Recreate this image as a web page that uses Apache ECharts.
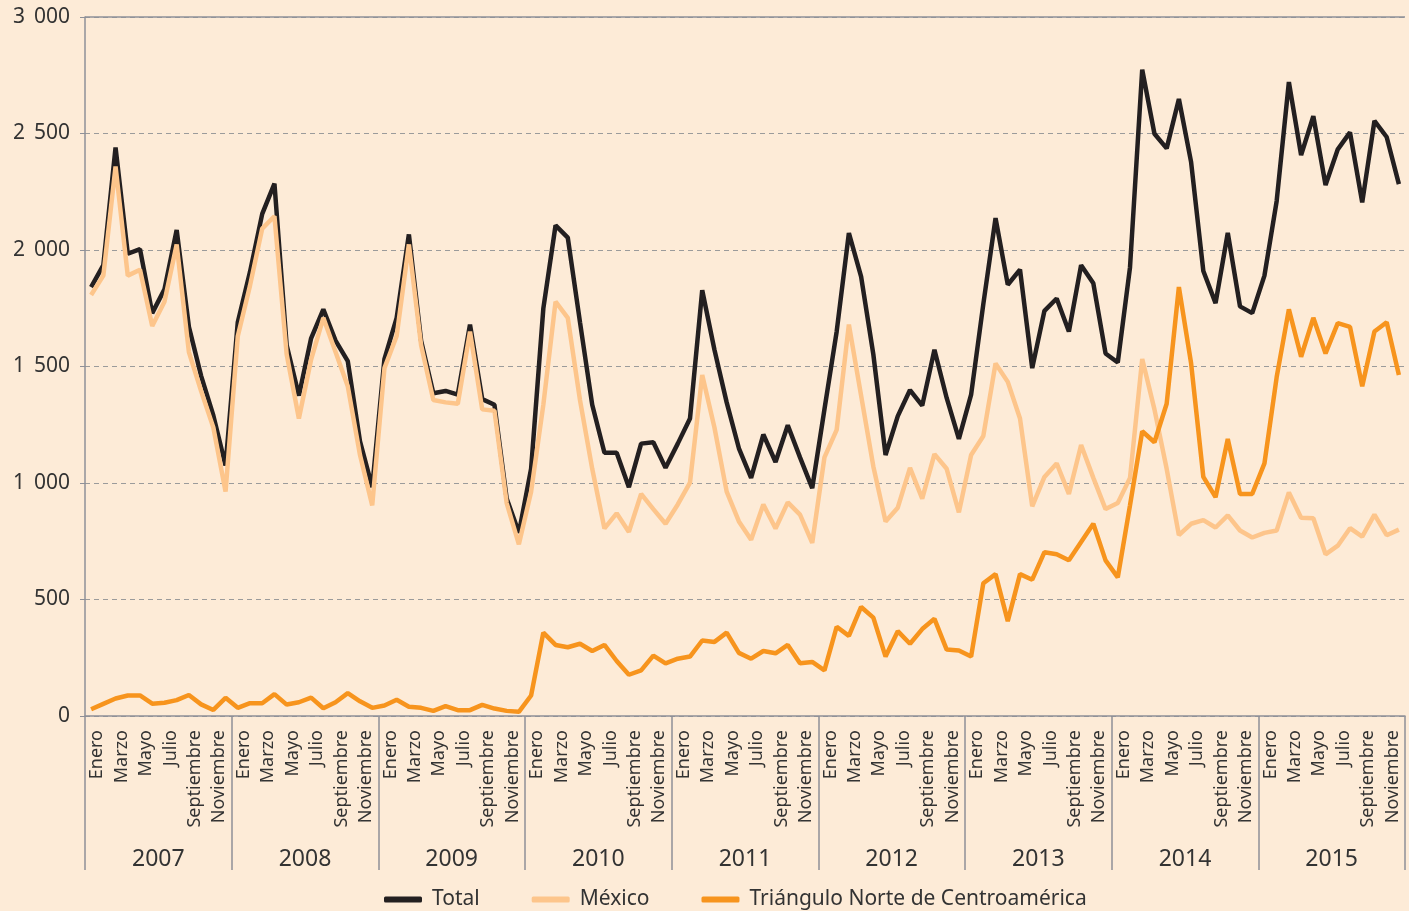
<!DOCTYPE html>
<html>
<head>
<meta charset="utf-8">
<script src="https://cdn.jsdelivr.net/npm/echarts@6/dist/echarts.min.js"></script>
<style>
  html, body { margin: 0; padding: 0; background: #fdebd7; }
  #main { width: 1409px; height: 911px; }
</style>
</head>
<body>
<div id="main"></div>
<script>
var years = ['2007', '2008', '2009', '2010', '2011', '2012', '2013', '2014', '2015'];
var months = ['Enero', 'Febrero', 'Marzo', 'Abril', 'Mayo', 'Junio',
              'Julio', 'Agosto', 'Septiembre', 'Octubre', 'Noviembre', 'Diciembre'];

var total = [
  1841, 1935, 2440, 1984, 2004, 1729, 1831, 2086, 1670, 1460, 1290, 1075,
  1690, 1906, 2155, 2285, 1591, 1375, 1621, 1745, 1611, 1523, 1179, 982,
  1532, 1709, 2067, 1611, 1385, 1395, 1379, 1680, 1360, 1336, 933, 786,
  1061, 1749, 2106, 2053, 1690, 1336, 1130, 1130, 982, 1169, 1175, 1065,
  1169, 1277, 1827, 1572, 1346, 1149, 1022, 1208, 1090, 1248, 1110, 978,
  1316, 1650, 2073, 1886, 1552, 1120, 1287, 1399, 1332, 1572, 1365, 1189,
  1379, 1768, 2137, 1851, 1916, 1493, 1739, 1792, 1650, 1935, 1857, 1556,
  1517, 1925, 2774, 2499, 2436, 2648, 2377, 1910, 1772, 2073, 1758, 1729,
  1890, 2210, 2721, 2407, 2574, 2279, 2432, 2505, 2204, 2554, 2485, 2283
];

var mexico = [
  1807, 1890, 2358, 1890, 1915, 1674, 1778, 2024, 1562, 1395, 1238, 963,
  1630, 1847, 2092, 2145, 1552, 1277, 1530, 1709, 1562, 1415, 1120, 904,
  1493, 1631, 2024, 1591, 1356, 1346, 1340, 1650, 1316, 1310, 914, 737,
  963, 1336, 1778, 1709, 1356, 1061, 805, 870, 790, 953, 888, 825,
  908, 1002, 1464, 1238, 963, 835, 756, 908, 805, 917, 864, 743,
  1110, 1228, 1680, 1375, 1071, 835, 894, 1065, 933, 1124, 1061, 874,
  1120, 1202, 1513, 1434, 1277, 900, 1026, 1084, 953, 1163, 1022, 888,
  914, 1022, 1532, 1316, 1061, 776, 825, 841, 809, 861, 796, 766,
  786, 796, 959, 851, 849, 694, 731, 806, 770, 864, 776, 800
];

var triangulo = [
  29, 52, 75, 88, 88, 53, 57, 68, 90, 50, 26, 78,
  35, 55, 55, 94, 49, 59, 79, 33, 59, 98, 63, 35,
  45, 70, 40, 35, 22, 42, 25, 25, 48, 32, 22, 18,
  88, 358, 305, 295, 310, 279, 305, 236, 177, 196, 259, 226,
  246, 255, 324, 318, 358, 271, 246, 279, 269, 305, 226, 232,
  196, 383, 344, 468, 422, 255, 364, 310, 373, 417, 285, 281,
  255, 570, 609, 407, 609, 585, 703, 694, 668, 747, 825, 668,
  595, 904, 1222, 1175, 1340, 1841, 1513, 1026, 939, 1189, 953, 953,
  1084, 1454, 1745, 1542, 1709, 1556, 1686, 1670, 1415, 1650, 1690, 1464
];

// one category per month, 9 years
var categories = [];
years.forEach(function (y) {
  months.forEach(function (m) { categories.push(m); });
});

var font = 'Noto Sans';
var textColor = '#333';
var axisColor = '#8e9098';

var chart = echarts.init(document.getElementById('main'));

var option = {
  backgroundColor: '#fdebd7',
  textStyle: { fontFamily: font },
  grid: { left: 85, right: 4, top: 17, bottom: 195 },
  legend: {
    top: 884,
    left: 379,
    icon: 'roundRect',
    itemWidth: 38,
    itemHeight: 6,
    itemGap: 52,
    textStyle: { fontSize: 21, color: textColor, fontFamily: font, padding: [0, 0, 0, 5] },
    data: ['Total', 'México', 'Triángulo Norte de Centroamérica']
  },
  xAxis: [
    {
      type: 'category',
      data: categories,
      boundaryGap: true,
      axisLine: { lineStyle: { color: axisColor, width: 1.5 } },
      axisTick: { show: false },
      axisLabel: {
        interval: 1,
        rotate: 90,
        margin: 14,
        fontSize: 18,
        color: textColor,
        fontFamily: font,
        verticalAlign: 'top',
        lineHeight: 12
      }
    },
    {
      type: 'category',
      data: years,
      position: 'bottom',
      offset: 0,
      boundaryGap: true,
      axisLine: { show: false },
      axisTick: { show: true, length: 154, lineStyle: { color: axisColor, width: 1.5 } },
      axisLabel: { margin: 132, fontSize: 23, color: textColor, fontFamily: font }
    }
  ],
  yAxis: {
    type: 'value',
    min: 0,
    max: 3000,
    interval: 500,
    axisLine: { show: true, lineStyle: { color: axisColor, width: 1.5 } },
    axisTick: { show: true, length: 5, lineStyle: { color: axisColor } },
    axisLabel: {
      margin: 15,
      fontSize: 21,
      color: textColor,
      fontFamily: font,
      formatter: function (v) {
        return String(v).replace(/\B(?=(\d{3})+(?!\d))/g, ' \u2009');
      }
    },
    splitLine: {
      show: true,
      lineStyle: { color: '#9b9b9b', type: [5, 4], width: 1.2 }
    }
  },
  series: [
    {
      name: 'Total',
      type: 'line',
      data: total,
      symbol: 'none',
      color: '#231f20',
      lineStyle: { width: 4.5 },
      markLine: {
        silent: true,
        symbol: 'none',
        label: { show: false },
        lineStyle: { type: 'solid', color: axisColor, width: 1.5 },
        data: [{ yAxis: 3000 }]
      }
    },
    {
      name: 'México',
      type: 'line',
      data: mexico,
      symbol: 'none',
      color: '#fdc58b',
      lineStyle: { width: 4.5 }
    },
    {
      name: 'Triángulo Norte de Centroamérica',
      type: 'line',
      data: triangulo,
      symbol: 'none',
      color: '#f7941d',
      lineStyle: { width: 4.5 }
    }
  ]
};

chart.setOption(option);
</script>
</body>
</html>
